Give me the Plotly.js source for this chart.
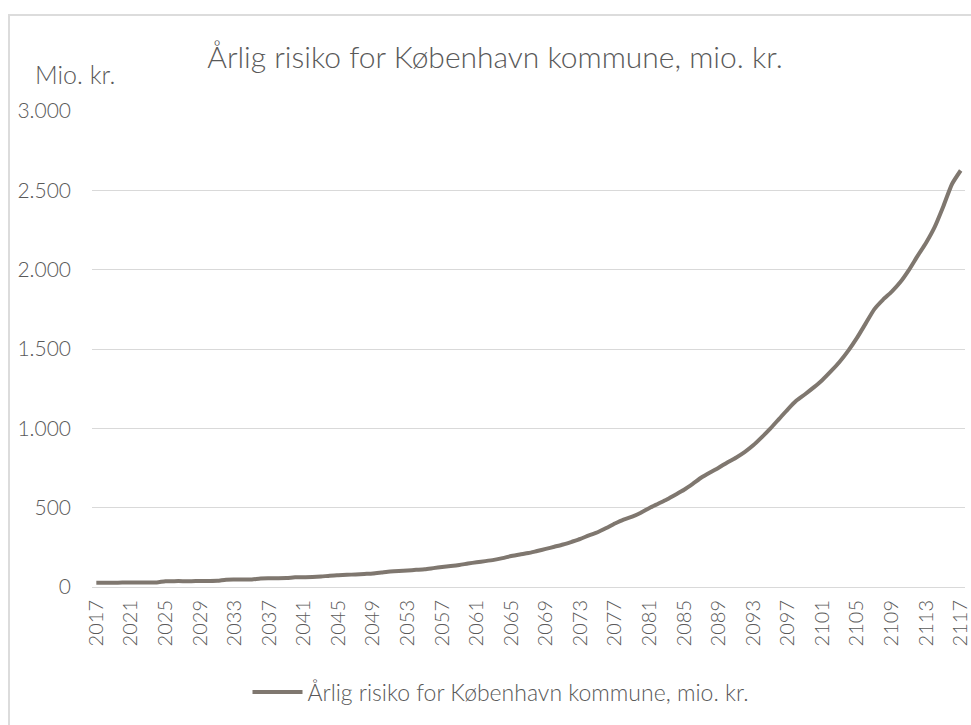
<!DOCTYPE html>
<html>
<head>
<meta charset="utf-8">
<script src="https://cdn.plot.ly/plotly-3.0.1.min.js"></script>
<style>
  html, body { margin: 0; padding: 0; overflow: hidden; background: #fff; }
  #chart { width: 971px; height: 725px; }
  #frame { position: absolute; left: 8px; top: 14px; width: 2000px; height: 2000px;
           border: 2px solid #dcdcdc; pointer-events: none; }
</style>
</head>
<body>
<div id="chart"></div>
<div id="frame"></div>
<script>
/* ── DATA ────────────────────────────────── */
const years = Array.from({ length: 101 }, (_, i) => 2017 + i);

const risk = [
  27, 27, 27, 28, 28, 28, 28, 29,            // 2017-2024
  36, 37, 37, 37, 38, 38, 39,                // 2025-2031
  46, 47, 47, 48, 54, 55, 55, 56,            // 2032-2039
  61, 62, 63, 66, 71, 74, 77, 79, 82, 85,    // 2040-2049
  91, 97, 101, 104, 108, 112, 119, 126, 132, 139,   // 2050-2059
  148, 156, 163, 171, 182, 195, 205, 214, 227, 240, // 2060-2069
  254, 268, 285, 303, 326, 345, 372, 400, 425, 443, // 2070-2079
  468, 498, 525, 552, 582, 613, 650, 690, 722, 752, // 2080-2089
  785, 815, 850, 893, 945, 1000, 1060, 1120, 1175, 1215, // 2090-2099
  1258, 1305, 1360, 1420, 1490, 1570, 1660, 1750, 1810, 1860, // 2100-2109
  1920, 1997, 2085, 2170, 2270, 2400, 2540, 2625 // 2110-2117
];

const seriesName = 'Årlig risiko for København kommune, mio. kr.';
const chartTitle = 'Årlig risiko for København kommune, mio. kr.';
const yUnit = 'Mio. kr.';

/* ── STYLE ───────────────────────────────── */
const FONT = 'Lato, "Open Sans", sans-serif';
const TEXT = '#595959';

const trace = {
  type: 'scatter',
  mode: 'lines',
  x: years,
  y: risk,
  name: seriesName,
  line: { color: '#7f776f', width: 4, shape: 'spline', smoothing: 0.6 },
  showlegend: true,
};

const layout = {
  width: 971,
  height: 725,
  paper_bgcolor: '#ffffff',
  plot_bgcolor: '#ffffff',
  separators: ',.',
  font: { family: FONT, color: TEXT, size: 16, weight: 300 },
  margin: { l: 92, r: 6, t: 111, b: 138 },
  title: {
    text: chartTitle,
    font: { family: FONT, size: 30, color: TEXT, weight: 300 },
    x: 495 / 971, xref: 'container', xanchor: 'center',
    y: 1 - 57 / 725, yref: 'container', yanchor: 'middle',
  },
  xaxis: {
    type: 'linear',
    range: [2016.5, 2117.5],
    tickmode: 'linear',
    tick0: 2017,
    dtick: 4,
    tickangle: -90,
    tickformat: 'd',
    ticklabeloverflow: 'allow',
    showgrid: false,
    zeroline: false,
    showline: true,
    linecolor: '#d9d9d9',
    linewidth: 1,
    ticks: '',
    ticklabelstandoff: 4,
    tickfont: { size: 20, color: TEXT, weight: 300 },
  },
  yaxis: {
    range: [0, 3000],
    tickmode: 'linear',
    tick0: 0,
    dtick: 500,
    tickformat: ',d',
    showgrid: true,
    gridcolor: '#d9d9d9',
    gridwidth: 1,
    zeroline: false,
    showline: false,
    ticks: '',
    ticklabelstandoff: 20,
    tickfont: { size: 21, color: TEXT, weight: 300 },
  },
  showlegend: true,
  legend: {
    orientation: 'h',
    x: 501 / 971, xref: 'container', xanchor: 'center',
    y: 1 - 692 / 725, yref: 'container', yanchor: 'middle',
    font: { size: 23, color: TEXT, weight: 300 },
    itemwidth: 50,
  },
  annotations: [{
    text: yUnit,
    xref: 'paper', yref: 'paper',
    x: (33 - 92) / 873, y: (587 - 74) / 476,
    xanchor: 'left', yanchor: 'middle',
    showarrow: false,
    font: { size: 25, color: TEXT, weight: 300 },
  }],
};

Plotly.newPlot('chart', [trace], layout, { displayModeBar: false, staticPlot: true });
</script>
</body>
</html>
